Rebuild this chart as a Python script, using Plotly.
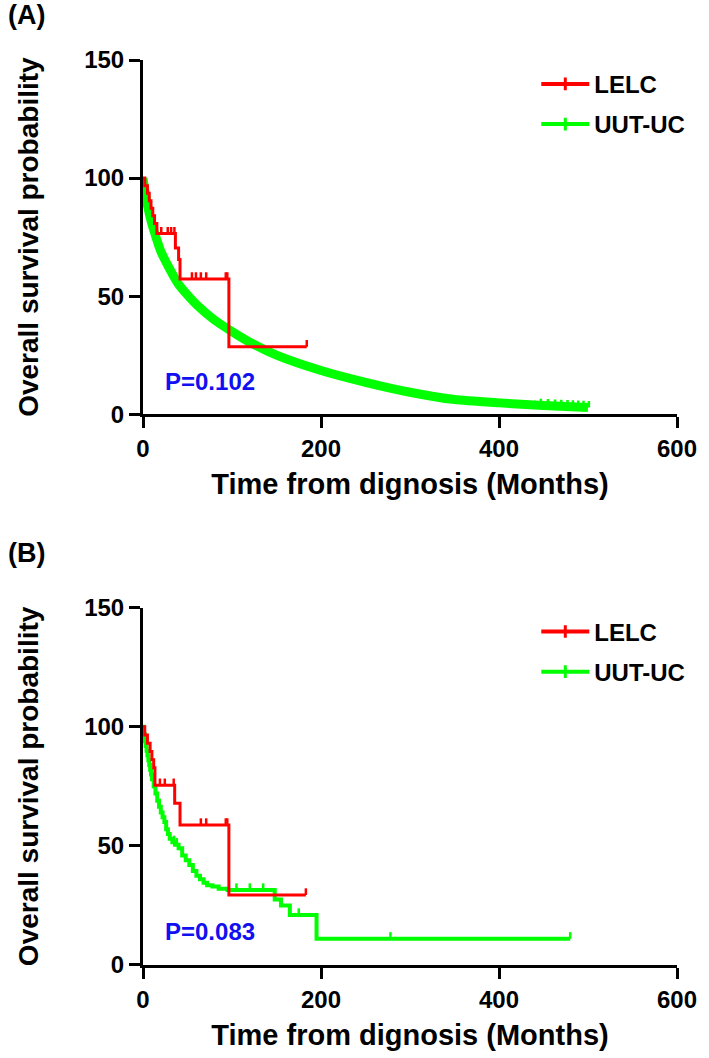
import numpy as np
import plotly.graph_objects as go

# ---------------- data ----------------
# Panel A
A_lelc_t = [0, 2, 5, 7, 9, 11, 13, 15.6, 36.4, 40, 41.6, 96.5, 184]
A_lelc_s = [100, 96.8, 93.6, 90.4, 87.2, 84.0, 80.8, 76.5, 70.4, 65.5, 57.3, 28.6, 28.6]
A_lelc_cens = [20.5, 27.8, 31.6, 35.3, 55, 59.5, 65, 71, 93, 94.7, 184]

A_uc_t = [0, 2, 5, 10, 15, 20, 30, 40, 50, 60, 80, 100, 120, 150, 200, 250, 300, 350, 400, 450, 500]
A_uc_s = [100, 95, 88.5, 80.5, 74.5, 69, 61.5, 55, 50.5, 46.5, 40, 35, 30.5, 25, 18.5, 13.5, 9.3, 6.2, 4.8, 3.7, 2.8]
A_uc_cens = [447, 455, 463, 470, 477, 483, 489, 495, 501]
A_p = "P=0.102"

# Panel B
B_lelc_t = [0, 2, 5, 8, 10, 12, 13.4, 35.6, 41.6, 96.5, 183]
B_lelc_s = [100, 96.6, 93.1, 89.7, 86.2, 82.8, 75.5, 67.9, 58.8, 29.4, 29.4]
B_lelc_cens = [19, 24.5, 34.5, 65, 71, 93, 94.7, 183]

B_uc_t = [0, 1, 2, 3, 4, 5, 6, 7, 8, 9, 10, 12, 14, 16, 18, 20, 22, 24, 26, 28, 30, 33, 36,
          40, 44, 48, 52, 56, 60, 64, 68, 72, 78, 85, 95, 140, 148, 155, 165, 195, 480]
B_uc_s = [100, 97, 94, 92, 90, 88, 86, 84, 82, 80, 78, 75, 72, 69, 66.5, 64, 62, 60, 57, 55, 53, 51.5, 50.5,
          49, 46, 44, 42, 39.5, 37.5, 36, 34.5, 33.5, 33, 32, 31.5, 31.5, 27.5, 25, 21, 11, 11]
B_uc_cens = [35, 38, 105, 120, 135, 175, 278, 480]
B_p = "P=0.083"

x_ticks = [0, 200, 400, 600]
y_ticks = [0, 50, 100, 150]
series_names = ["LELC", "UUT-UC"]
RED = "#FF0000"
GREEN = "#00FF00"
BLUE = "#1010F0"
FONT = "Liberation Sans"


def step_at(ts, ss, t):
    ts = np.asarray(ts, float)
    idx = np.searchsorted(ts, t, side="right") - 1
    return ss[max(idx, 0)]


def tick_segments(times, vals, h):
    xs, ys = [], []
    for t, v in zip(times, vals):
        xs += [t, t, None]
        ys += [v, v + h, None]
    return xs, ys


fig = go.Figure()
TICK_H = 2.8


def add_panel(xa, ya, lelc_t, lelc_s, lelc_c, uc_t, uc_s, uc_c, uc_smooth, uc_width):
    # UUT-UC curve
    fig.add_trace(go.Scatter(x=uc_t, y=uc_s, mode="lines",
                             line=dict(color=GREEN, width=uc_width,
                                       shape="spline" if uc_smooth else "hv", smoothing=0.6),
                             xaxis=xa, yaxis=ya, showlegend=False, hoverinfo="skip"))
    if uc_smooth:
        cv = list(np.interp(uc_c, uc_t, uc_s))
    else:
        cv = [step_at(uc_t, uc_s, t) for t in uc_c]
    cx, cy = tick_segments(uc_c, cv, TICK_H)
    fig.add_trace(go.Scatter(x=cx, y=cy, mode="lines", line=dict(color=GREEN, width=2.5),
                             xaxis=xa, yaxis=ya, showlegend=False, hoverinfo="skip"))
    # LELC curve
    fig.add_trace(go.Scatter(x=lelc_t, y=lelc_s, mode="lines",
                             line=dict(color=RED, width=3, shape="hv"),
                             xaxis=xa, yaxis=ya, showlegend=False, hoverinfo="skip"))
    lv = [step_at(lelc_t, lelc_s, t) for t in lelc_c]
    lx, ly = tick_segments(lelc_c, lv, TICK_H)
    fig.add_trace(go.Scatter(x=lx, y=ly, mode="lines", line=dict(color=RED, width=2.5),
                             xaxis=xa, yaxis=ya, showlegend=False, hoverinfo="skip"))


add_panel("x", "y", A_lelc_t, A_lelc_s, A_lelc_cens, A_uc_t, A_uc_s, A_uc_cens, True, 9)
add_panel("x2", "y2", B_lelc_t, B_lelc_s, B_lelc_cens, B_uc_t, B_uc_s, B_uc_cens, False, 4)

# legend entries
for leg in ["legend", "legend2"]:
    for name, col in zip(series_names, [RED, GREEN]):
        fig.add_trace(go.Scatter(x=[None], y=[None], mode="lines+markers", name=name,
                                 line=dict(color=col, width=4),
                                 marker=dict(symbol="line-ns", size=9,
                                             line=dict(color=col, width=3)),
                                 legend=leg, legendgroup=leg + name, showlegend=True,
                                 xaxis="x", yaxis="y"))

axis_common = dict(showline=True, linewidth=3, linecolor="black", ticks="outside",
                   ticklen=11, tickwidth=3, tickcolor="black", showgrid=False,
                   zeroline=False, mirror=False,
                   tickfont=dict(family=FONT, size=24, color="black", weight="bold"))

xtitle = dict(text="Time from dignosis (Months)",
              font=dict(family=FONT, size=29, color="black", weight="bold"), standoff=13)
ytitle = dict(text="Overall survival probability",
              font=dict(family=FONT, size=28, color="black", weight="bold"), standoff=38)

legend_common = dict(font=dict(family=FONT, size=24, color="black", weight="bold"),
                     bgcolor="rgba(0,0,0,0)", borderwidth=0, tracegroupgap=6,
                     itemwidth=48, xanchor="left", yanchor="top")

fig.update_layout(
    width=709, height=1058,
    margin=dict(l=143, r=27, t=60, b=91),
    paper_bgcolor="white", plot_bgcolor="white",
    xaxis=dict(domain=[0, 1], range=[0, 600], tickvals=x_ticks, anchor="y",
               title=xtitle, **axis_common),
    yaxis=dict(domain=[0.6086, 1], range=[0, 150], tickvals=y_ticks, anchor="x",
               title=ytitle, **axis_common),
    xaxis2=dict(domain=[0, 1], range=[0, 600], tickvals=x_ticks, anchor="y2",
                title=xtitle, **axis_common),
    yaxis2=dict(domain=[0, 0.3947], range=[0, 150], tickvals=y_ticks, anchor="x2",
                title=ytitle, **axis_common),
    legend=dict(x=0.7365, y=0.998, **legend_common),
    legend2=dict(x=0.7365, y=0.393, **legend_common),
    showlegend=True,
    annotations=[
        dict(text="(A)", xref="paper", yref="paper", x=-0.256, y=1.05, xanchor="left",
             yanchor="middle", showarrow=False,
             font=dict(family=FONT, size=27, color="black", weight="bold")),
        dict(text="(B)", xref="paper", yref="paper", x=-0.256, y=0.455, xanchor="left",
             yanchor="middle", showarrow=False,
             font=dict(family=FONT, size=27, color="black", weight="bold")),
        dict(text=A_p, xref="x", yref="y", x=22, y=14, xanchor="left", yanchor="middle",
             showarrow=False, font=dict(family=FONT, size=24, color=BLUE, weight="bold")),
        dict(text=B_p, xref="x2", yref="y2", x=22, y=14, xanchor="left", yanchor="middle",
             showarrow=False, font=dict(family=FONT, size=24, color=BLUE, weight="bold")),
    ],
)

fig.write_html("out.html", config={"displayModeBar": False},
               post_script="document.body.style.margin='0';document.body.style.overflow='hidden';")
